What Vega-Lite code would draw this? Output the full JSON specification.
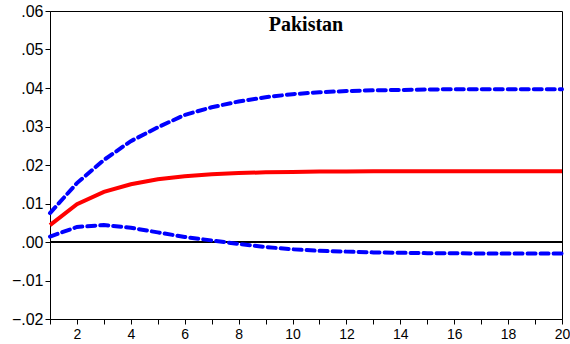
{
  "$schema": "https://vega.github.io/schema/vega-lite/v6.json",
  "width": 512,
  "height": 308,
  "autosize": {"type": "none"},
  "padding": {"left": 50, "top": 11, "right": 8, "bottom": 25},
  "background": "white",
  "config": {
    "view": {"stroke": "black", "strokeWidth": 1},
    "axis": {"grid": false, "domainColor": "black", "tickColor": "black", "labelColor": "black", "tickSize": 5, "domainWidth": 1, "tickWidth": 1, "labelFont": "Liberation Sans", "labelFontSize": 16}
  },
  "title": {"text": "Pakistan", "font": "Liberation Serif", "fontSize": 20, "fontWeight": "bold", "color": "black", "anchor": "middle", "frame": "group", "offset": -32, "baseline": "top"},
  "datasets": {
    "irf": [
      {"h": 1, "series": "response", "v": 0.0044},
      {"h": 2, "series": "response", "v": 0.0098},
      {"h": 3, "series": "response", "v": 0.0130},
      {"h": 4, "series": "response", "v": 0.0150},
      {"h": 5, "series": "response", "v": 0.0163},
      {"h": 6, "series": "response", "v": 0.0171},
      {"h": 7, "series": "response", "v": 0.0176},
      {"h": 8, "series": "response", "v": 0.0179},
      {"h": 9, "series": "response", "v": 0.0181},
      {"h": 10, "series": "response", "v": 0.0182},
      {"h": 11, "series": "response", "v": 0.0183},
      {"h": 12, "series": "response", "v": 0.0183},
      {"h": 13, "series": "response", "v": 0.0184},
      {"h": 14, "series": "response", "v": 0.0184},
      {"h": 15, "series": "response", "v": 0.0184},
      {"h": 16, "series": "response", "v": 0.0184},
      {"h": 17, "series": "response", "v": 0.0184},
      {"h": 18, "series": "response", "v": 0.0184},
      {"h": 19, "series": "response", "v": 0.0184},
      {"h": 20, "series": "response", "v": 0.0184},
      {"h": 1, "series": "upper", "v": 0.0075},
      {"h": 2, "series": "upper", "v": 0.0153},
      {"h": 3, "series": "upper", "v": 0.0213},
      {"h": 4, "series": "upper", "v": 0.0262},
      {"h": 5, "series": "upper", "v": 0.0298},
      {"h": 6, "series": "upper", "v": 0.0330},
      {"h": 7, "series": "upper", "v": 0.0350},
      {"h": 8, "series": "upper", "v": 0.0365},
      {"h": 9, "series": "upper", "v": 0.0376},
      {"h": 10, "series": "upper", "v": 0.0384},
      {"h": 11, "series": "upper", "v": 0.0389},
      {"h": 12, "series": "upper", "v": 0.0392},
      {"h": 13, "series": "upper", "v": 0.0394},
      {"h": 14, "series": "upper", "v": 0.0395},
      {"h": 15, "series": "upper", "v": 0.0396},
      {"h": 16, "series": "upper", "v": 0.0397},
      {"h": 17, "series": "upper", "v": 0.0397},
      {"h": 18, "series": "upper", "v": 0.0397},
      {"h": 19, "series": "upper", "v": 0.0397},
      {"h": 20, "series": "upper", "v": 0.0397},
      {"h": 1, "series": "lower", "v": 0.0014},
      {"h": 2, "series": "lower", "v": 0.0039},
      {"h": 3, "series": "lower", "v": 0.0044},
      {"h": 4, "series": "lower", "v": 0.0037},
      {"h": 5, "series": "lower", "v": 0.0025},
      {"h": 6, "series": "lower", "v": 0.0013},
      {"h": 7, "series": "lower", "v": 0.0004},
      {"h": 8, "series": "lower", "v": -0.0005},
      {"h": 9, "series": "lower", "v": -0.0013},
      {"h": 10, "series": "lower", "v": -0.0019},
      {"h": 11, "series": "lower", "v": -0.0023},
      {"h": 12, "series": "lower", "v": -0.0025},
      {"h": 13, "series": "lower", "v": -0.0027},
      {"h": 14, "series": "lower", "v": -0.0028},
      {"h": 15, "series": "lower", "v": -0.0029},
      {"h": 16, "series": "lower", "v": -0.0029},
      {"h": 17, "series": "lower", "v": -0.0030},
      {"h": 18, "series": "lower", "v": -0.0030},
      {"h": 19, "series": "lower", "v": -0.0030},
      {"h": 20, "series": "lower", "v": -0.0030}
    ]
  },
  "data": {"name": "irf"},
  "encoding": {
    "x": {
      "field": "h", "type": "quantitative",
      "scale": {"domain": [1, 20], "nice": false, "zero": false},
      "axis": {"title": null, "values": [1,2,3,4,5,6,7,8,9,10,11,12,13,14,15,16,17,18,19,20], "labelExpr": "datum.value % 2 === 0 ? datum.label : ''", "labelPadding": 3, "labelFontSize": 14, "labelFlush": false, "labelOverlap": false}
    },
    "y": {
      "field": "v", "type": "quantitative",
      "scale": {"domain": [-0.02, 0.06], "nice": false, "zero": false},
      "axis": {"title": null, "values": [-0.02,-0.01,0,0.01,0.02,0.03,0.04,0.05,0.06], "labelExpr": "replace(format(datum.value, '.2f'), '0.', '.')", "labelPadding": 2, "labelFontSize": 16, "labelFlush": false, "labelOverlap": false}
    }
  },
  "layer": [
    {
      "mark": {"type": "rule", "color": "black", "strokeWidth": 1},
      "encoding": {
        "x": {"datum": 1},
        "x2": {"datum": 20},
        "y": {"datum": 0}
      }
    },
    {
      "transform": [{"filter": "datum.series !== 'response'"}],
      "mark": {"type": "line", "color": "#0000ff", "strokeWidth": 4, "strokeDash": [8, 5], "strokeCap": "round"},
      "encoding": {
        "detail": {"field": "series"}
      }
    },
    {
      "transform": [{"filter": "datum.series === 'response'"}],
      "mark": {"type": "line", "color": "#ff0000", "strokeWidth": 4}
    }
  ]
}
